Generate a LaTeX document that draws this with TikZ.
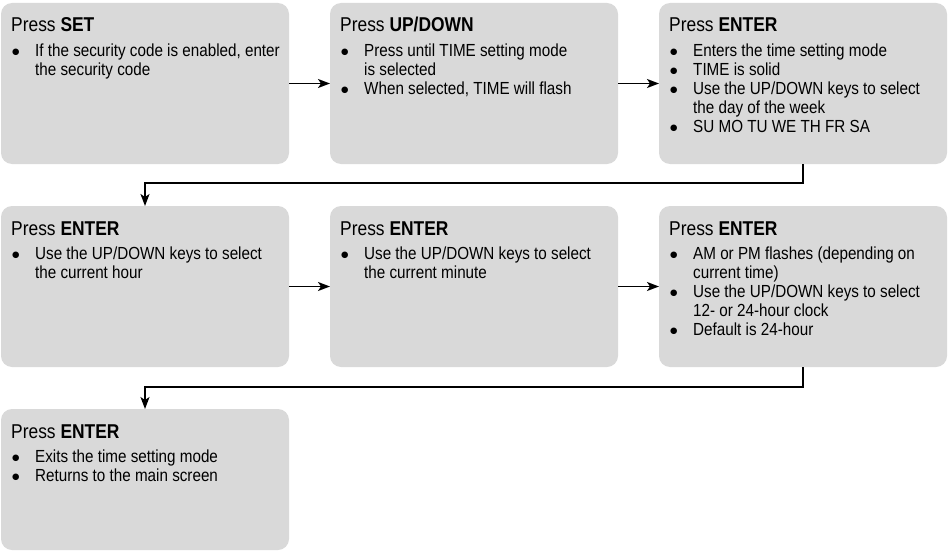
\documentclass[tikz,border=0pt]{standalone}
\usepackage{fontspec}
\setmainfont{Liberation Sans}[FakeStretch=0.87]
\newfontfamily\dotfont{DejaVu Sans}
\usetikzlibrary{arrows.meta}
\newcommand{\bigbul}{\raisebox{2pt}{\dotfont\fontsize{8.5}{8.5}\selectfont ●}}
\newcommand{\bitem}[1]{\noindent\hangindent=24pt\hangafter=1\makebox[24pt][l]{\hspace{1pt}\bigbul}\strut#1\par}
\newcommand{\bodyfont}{\fontsize{17.5}{18.9}\selectfont}
\definecolor{boxgray}{HTML}{D9D9D9}
\tikzset{
  box/.style={fill=boxgray, draw=none, rounded corners=11pt, inner sep=0pt, outer sep=0pt,
              minimum width=288pt, anchor=north west},
  head/.style={anchor=base west, inner sep=0pt, font=\fontsize{20}{24}\selectfont},
  body/.style={anchor=north west, inner sep=0pt, text width=290pt, font=\bodyfont, align=none},
  conn/.style={line width=1.8pt, -{Stealth[length=12pt,width=9pt,inset=3pt]}},
}
\begin{document}
\begin{tikzpicture}[x=1pt,y=-1pt]
\useasboundingbox (0,0) rectangle (950,551);
% boxes
\node[box, minimum height=161pt] (b1) at (1,3) {};
\node[box, minimum height=161pt] (b2) at (330,3) {};
\node[box, minimum height=161pt] (b3) at (659,3) {};
\node[box, minimum height=161pt] (b4) at (1,206) {};
\node[box, minimum height=161pt] (b5) at (330,206) {};
\node[box, minimum height=161pt] (b6) at (659,206) {};
\node[box, minimum height=141pt] (b7) at (1,409) {};
% headings
\node[head] (h1) at (11,32) {Press \textbf{SET}};
\node[head] (h2) at (340,32) {Press \textbf{UP/DOWN}};
\node[head] (h3) at (669,32) {Press \textbf{ENTER}};
\node[head] (h4) at (11,235) {Press \textbf{ENTER}};
\node[head] (h5) at (340,235) {Press \textbf{ENTER}};
\node[head] (h6) at (669,235) {Press \textbf{ENTER}};
\node[head] (h7) at (11,438) {Press \textbf{ENTER}};
% bodies
\node[body] (t1) at (11,43.5) {\bitem{If the security code is enabled, enter\newline the security code}};
\node[body] (t2) at (340,43.5) {\bitem{Press until TIME setting mode\newline is selected}\bitem{When selected, TIME will flash}};
\node[body] (t3) at (669,43.5) {\bitem{Enters the time setting mode}\bitem{TIME is solid}\bitem{Use the UP/DOWN keys to select\newline the day of the week}\bitem{SU MO TU WE TH FR SA}};
\node[body] (t4) at (11,246.5) {\bitem{Use the UP/DOWN keys to select\newline the current hour}};
\node[body] (t5) at (340,246.5) {\bitem{Use the UP/DOWN keys to select\newline the current minute}};
\node[body] (t6) at (669,246.5) {\bitem{AM or PM flashes (depending on\newline current time)}\bitem{Use the UP/DOWN keys to select\newline 12- or 24-hour clock}\bitem{Default is 24-hour}};
\node[body] (t7) at (11,449.5) {\bitem{Exits the time setting mode}\bitem{Returns to the main screen}};
% connectors
\draw[conn] (b1.east) -- (b2.west);
\draw[conn] (b2.east) -- (b3.west);
\draw[conn] (b4.east) -- (b5.west);
\draw[conn] (b5.east) -- (b6.west);
\draw[conn] (b3.south) -- ++(0,19) -| (b4.north);
\draw[conn] (b6.south) -- ++(0,20) -| (b7.north);
\end{tikzpicture}
\end{document}
